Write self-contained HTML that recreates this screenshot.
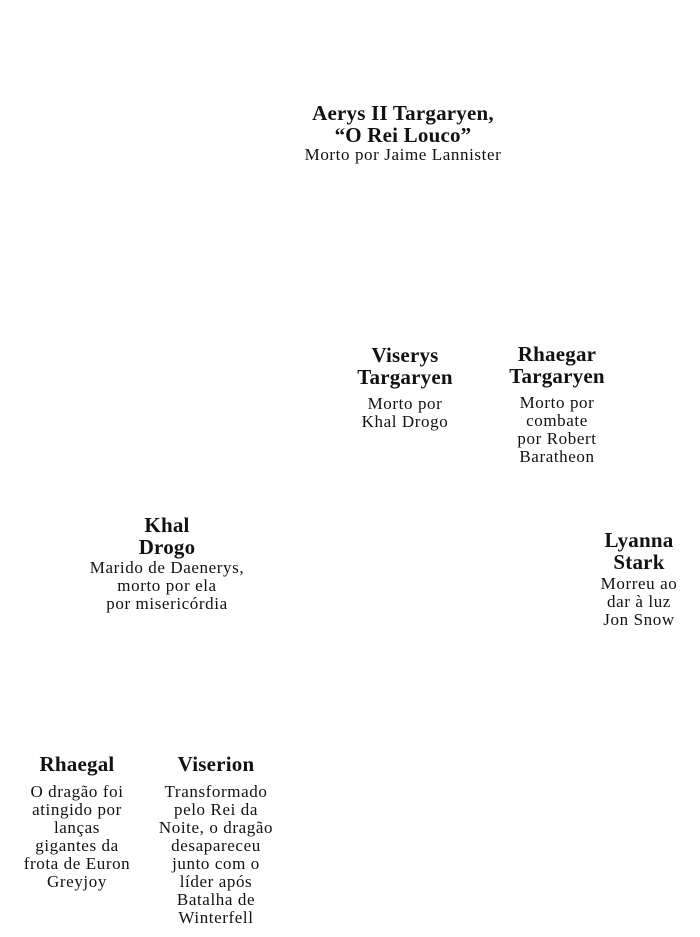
<!DOCTYPE html>
<html><head><meta charset="utf-8"><style>
html,body{margin:0;padding:0;background:#fff;width:700px;height:937px;overflow:hidden}
body{position:relative;font-family:"Liberation Serif",serif;color:#111}
.l{position:absolute;width:300px;text-align:center;white-space:nowrap}
.b{font-weight:bold;font-size:21px;line-height:22px;letter-spacing:0.2px}
.n{font-size:17px;line-height:18px;letter-spacing:0.6px}
</style></head><body>
<div class="l b" style="left:253px;top:102px">Aerys II Targaryen,<br>“O Rei Louco”</div>
<div class="l n" style="left:253px;top:146px">Morto por Jaime Lannister</div>

<div class="l b" style="left:255px;top:344px">Viserys<br>Targaryen</div>
<div class="l n" style="left:255px;top:395px">Morto por<br>Khal Drogo</div>

<div class="l b" style="left:407px;top:343px">Rhaegar<br>Targaryen</div>
<div class="l n" style="left:407px;top:394px">Morto por<br>combate<br>por Robert<br>Baratheon</div>

<div class="l b" style="left:17px;top:514px">Khal<br>Drogo</div>
<div class="l n" style="left:17px;top:559px">Marido de Daenerys,<br>morto por ela<br>por misericórdia</div>

<div class="l b" style="left:489px;top:529px">Lyanna<br>Stark</div>
<div class="l n" style="left:489px;top:575px">Morreu ao<br>dar à luz<br>Jon Snow</div>

<div class="l b" style="left:-73px;top:753px">Rhaegal</div>
<div class="l n" style="left:-73px;top:783px">O dragão foi<br>atingido por<br>lanças<br>gigantes da<br>frota de Euron<br>Greyjoy</div>

<div class="l b" style="left:66px;top:753px">Viserion</div>
<div class="l n" style="left:66px;top:783px">Transformado<br>pelo Rei da<br>Noite, o dragão<br>desapareceu<br>junto com o<br>líder após<br>Batalha de<br>Winterfell</div>
</body></html>
